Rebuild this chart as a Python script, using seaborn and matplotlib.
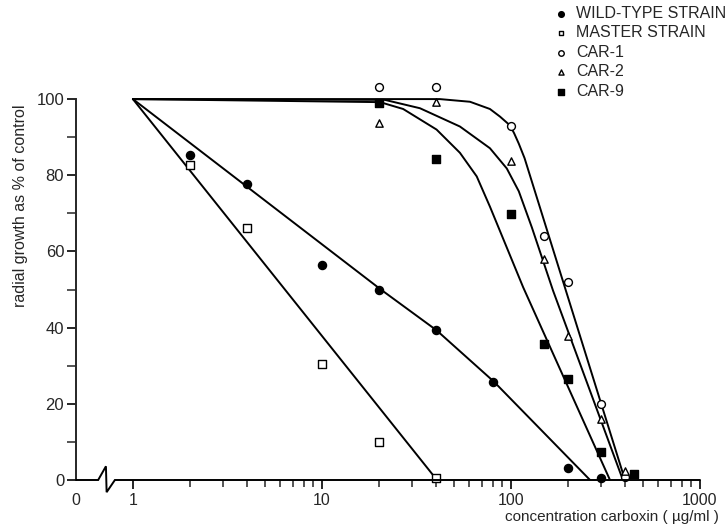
import numpy as np
import pandas as pd
import matplotlib
matplotlib.use("Agg")
import matplotlib.pyplot as plt
from matplotlib.ticker import FixedLocator, NullFormatter
import seaborn as sns

# ---- data ----
conc_wild = [2, 4, 10, 20, 40, 80, 200, 300]
growth_wild = [85.2, 77.8, 56.5, 50.0, 39.4, 25.8, 3.1, 0.5]

conc_master = [2, 4, 10, 20, 40]
growth_master = [82.8, 66.1, 30.4, 10.0, 0.5]

conc_car12 = [20, 40, 100, 150, 200, 300, 400]
growth_car1 = [103.2, 103.1, 92.9, 64.0, 52.1, 19.9, 0.7]
growth_car2 = [93.7, 99.3, 83.8, 58.0, 37.8, 15.9, 2.4]

conc_car9 = [20, 40, 100, 150, 200, 300, 450]
growth_car9 = [99.1, 84.2, 69.9, 35.7, 26.5, 7.3, 1.6]

# fitted curves
fit_wild_x = [1, 20.5, 40.4, 81.3, 262]
fit_wild_y = [100, 50.0, 39.3, 25.8, 0]
fit_master_x = [1, 40.6]
fit_master_y = [100, 0]
fit_car1_x = [1, 42, 60.7, 77.4, 87.5, 98.8, 104, 110, 118, 401]
fit_car1_y = [100, 100, 99.3, 97.4, 95.4, 93.1, 91.0, 88.3, 84.5, 0]
fit_car2_x = [1, 21.5, 33, 53.7, 77.4, 95, 110, 129, 167, 391]
fit_car2_y = [100, 99.8, 97.6, 92.8, 87.1, 81.8, 75.8, 66.3, 49.7, 0]
fit_car9_x = [1, 20.3, 26.9, 40.4, 53.7, 65.9, 77.5, 116, 334]
fit_car9_y = [100, 99.2, 97.4, 92.0, 85.9, 79.7, 71.7, 50.6, 0]

labels = ["WILD-TYPE STRAIN", "MASTER STRAIN", "CAR-1", "CAR-2", "CAR-9"]
x_major = [1, 10, 100, 1000]
x_major_labels = ["1", "10", "100", "1000"]
y_major = [0, 20, 40, 60, 80, 100]
y_minor = [10, 30, 50, 70, 90]

sns.set_style("ticks")
plt.rcParams["font.family"] = ["Liberation Sans", "DejaVu Sans"]

W, H = 728, 531
fig = plt.figure(figsize=(W / 100, H / 100), dpi=100)
ax_left, ax_right, ax_bottom_px, ax_top_px = 76, 700, 480, 61
ax = fig.add_axes([ax_left / W, (H - ax_bottom_px) / H,
                   (ax_right - ax_left) / W, (ax_bottom_px - ax_top_px) / H])
ax.set_xscale("log")
ax.set_xlim(0.5, 1000)
ax.set_ylim(0, 110)

lw = 1.4
for fx, fy in [(fit_wild_x, fit_wild_y), (fit_master_x, fit_master_y),
               (fit_car1_x, fit_car1_y), (fit_car2_x, fit_car2_y),
               (fit_car9_x, fit_car9_y)]:
    sns.lineplot(x=fx, y=fy, ax=ax, color="black", lw=lw, sort=False,
                 estimator=None, zorder=2)

series = [
    (conc_wild, growth_wild, "o", "black", 34),
    (conc_master, growth_master, "s", "white", 26),
    (conc_car12, growth_car1, "o", "white", 32),
    (conc_car12, growth_car2, "^", "white", 28),
    (conc_car9, growth_car9, "s", "black", 30),
]
for (cx, cy, m, fc, s), lab in zip(series, labels):
    sns.scatterplot(x=cx, y=cy, ax=ax, marker=m, color=fc, edgecolor="black",
                    linewidth=1.0, s=s, zorder=3, label=lab, clip_on=False)

# axes styling
sns.despine(ax=ax)
ax.spines["bottom"].set_visible(False)
ax.spines["left"].set_bounds(0, 100)
ax.spines["left"].set_linewidth(lw)

# x axis line with a break
ax.plot([0.5, 0.655, 0.720, 0.726, 0.803, 1000], [0, 0, 3.6, -3.2, 0, 0],
        color="black", lw=lw, clip_on=False, zorder=4, solid_joinstyle="miter")

ax.xaxis.set_major_locator(FixedLocator(x_major))
ax.set_xticklabels(x_major_labels)
minors = [m * 10 ** d for d in range(0, 3) for m in range(2, 10)]
ax.xaxis.set_minor_locator(FixedLocator(minors))
ax.xaxis.set_minor_formatter(NullFormatter())
ax.set_yticks(y_major)
ax.set_yticks(y_minor, minor=True)

ax.tick_params(axis="x", which="major", length=6.5, width=lw, pad=3, labelsize=11.5)
ax.tick_params(axis="x", which="minor", length=5, width=1.1)
ax.tick_params(axis="y", which="major", length=6.5, width=lw, pad=2, labelsize=12)
ax.tick_params(axis="y", which="minor", length=6.5, width=1.1)

ax.annotate("0", xy=(0.5, 0), xycoords=("data", "axes fraction"),
            xytext=(0, -15), textcoords="offset points",
            ha="center", va="center", fontsize=11.5)

ax.set_ylabel("radial growth as % of control", fontsize=11.5)
ax.yaxis.set_label_coords((28 - ax_left) / (ax_right - ax_left),
                          (ax_bottom_px - 206) / (ax_bottom_px - ax_top_px))
ax.set_xlabel("concentration carboxin ( µg/ml )", fontsize=11, ha="right")
ax.xaxis.set_label_coords((719 - ax_left) / (ax_right - ax_left),
                          (ax_bottom_px - 510) / (ax_bottom_px - ax_top_px))

leg = ax.legend(loc="upper left", bbox_to_anchor=(555 / W, 1 - 6 / H),
                bbox_transform=fig.transFigure, frameon=False, fontsize=11.5,
                handlelength=0.8, handletextpad=0.5, labelspacing=0.28,
                markerscale=0.7, borderpad=0, borderaxespad=0)

fig.savefig("out.png", dpi=100)
